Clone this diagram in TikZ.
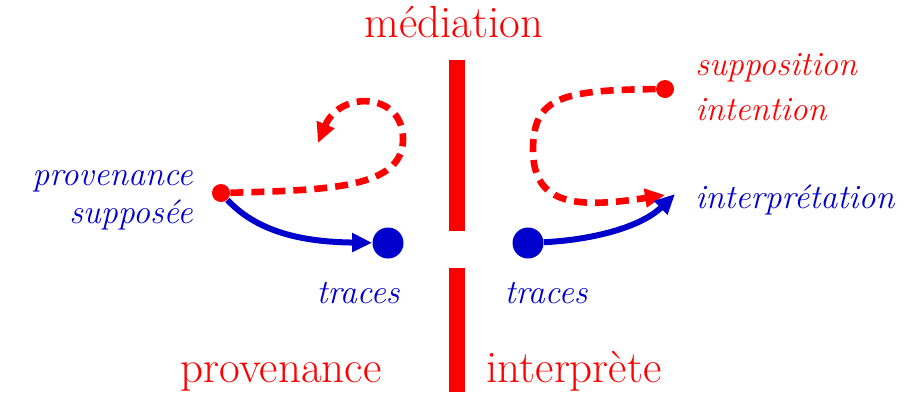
\documentclass[tikz,border=0pt]{standalone}
\usepackage{xcolor}
\usetikzlibrary{arrows.meta}
\definecolor{medred}{RGB}{255,0,0}
\definecolor{traceblue}{RGB}{0,0,204}

\begin{document}
\begin{tikzpicture}[x=0.5pt,y=-0.5pt,>={Triangle[length=10pt,width=9pt]},line join=round]
  \tikzset{
    bar/.style={fill=medred},
    reddot/.style={circle,fill=medred,inner sep=0pt,minimum size=9pt},
    bluedot/.style={circle,fill=traceblue,inner sep=0pt,minimum size=15.5pt},
    bluearrow/.style={->,traceblue,line width=3pt},
    redarrow/.style={->,medred,line width=3.3pt,dash pattern=on 6.5pt off 4pt},
    roman/.style={medred,font=\fontsize{22.5}{27}\selectfont,inner sep=0pt},
    slanted/.style={font=\fontsize{17}{20}\selectfont\itshape,inner sep=0pt}
  }
  \useasboundingbox (0,0) rectangle (924,392);
  % the cut
  \fill[bar] (449,60) rectangle (465,231);
  \fill[bar] (449,268) rectangle (465,392);
  % dots
  \node[reddot] (PS) at (221,193) {};
  \node[bluedot] (TL) at (388,243) {};
  \node[bluedot] (TR) at (528,243) {};
  \node[reddot] (SI) at (665,89) {};
  \coordinate (PE) at (318,143);
  \coordinate (IE) at (665,195);
  \coordinate (IB) at (675,194);
  % left side
  \draw[bluearrow] (PS) .. controls (260,235) and (310,242) .. (TL);
  \draw[redarrow] (PS) .. controls (330,190) and (402,188) .. (403,140)
    .. controls (404,92) and (340,90) .. (PE);
  % right side
  \draw[redarrow] (SI) .. controls (560,90) and (533,98) .. (533,150)
    .. controls (533,207) and (580,208) .. (IE);
  \draw[bluearrow] (TR) .. controls (590,240) and (640,228) .. (IB);
  % labels
  \node[roman,anchor=base] (med) at (454,37) {médiation};
  \node[roman,anchor=base] (prov) at (281,382) {provenance};
  \node[roman,anchor=base] (interp) at (574,382) {interprète};
  \node[slanted,traceblue,anchor=base] (trl) at (358,303) {traces};
  \node[slanted,traceblue,anchor=base] (trr) at (546,303) {traces};
  \node[slanted,traceblue,anchor=base east] (ps1) at (193,185) {provenance};
  \node[slanted,traceblue,anchor=base east] (ps2) at (193,223) {supposée};
  \node[slanted,medred,anchor=base west] (si1) at (695,75) {supposition};
  \node[slanted,medred,anchor=base west] (si2) at (695,120) {intention};
  \node[slanted,traceblue,anchor=base west] (int) at (695,208) {interprétation};
\end{tikzpicture}
\end{document}
